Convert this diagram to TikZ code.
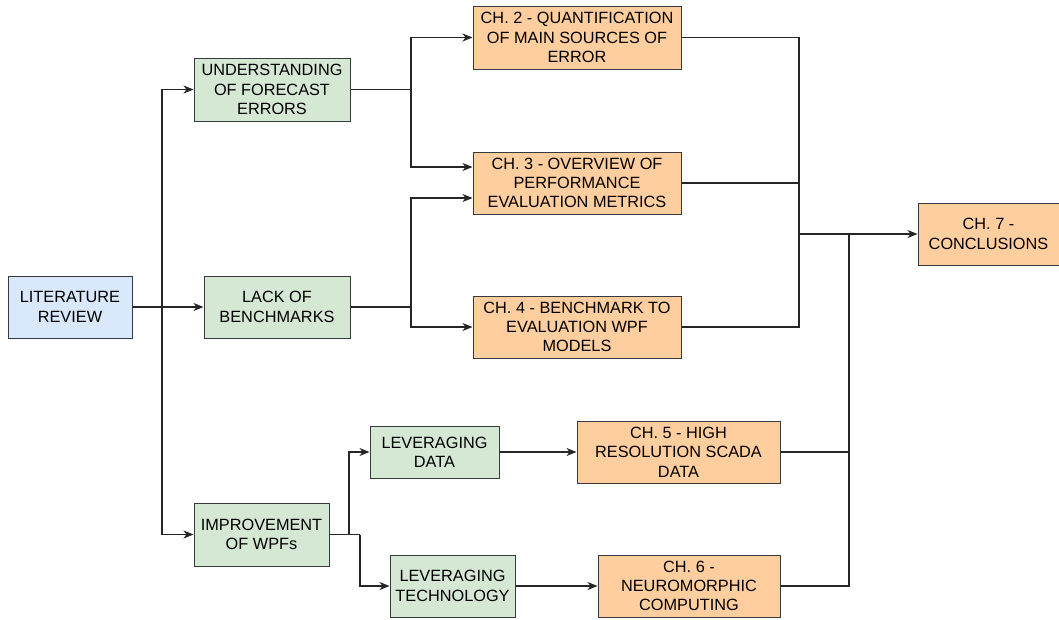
\documentclass[tikz,border=0pt]{standalone}
\usepackage{fontspec}
\setmainfont{Liberation Sans}
\usetikzlibrary{arrows.meta,calc}
\definecolor{litfill}{HTML}{DAE8FC}
\definecolor{topicfill}{HTML}{D5E8D4}
\definecolor{chapfill}{HTML}{FFCE9F}
\definecolor{edge}{HTML}{36393D}
\tikzset{
  box/.style={draw=edge, line width=1pt, align=center, inner sep=0pt,
    font=\fontsize{16.3}{19.3}\selectfont},
  lit/.style={box, fill=litfill},
  topic/.style={box, fill=topicfill},
  chap/.style={box, fill=chapfill},
  link/.style={draw=black!85, line width=1.1pt},
  arr/.style={link, -{Stealth[length=10pt,width=8pt,inset=3pt]}},
}
\begin{document}
\begin{tikzpicture}[x=1pt,y=-1pt]
\useasboundingbox (0,0) rectangle (1059,619);

% sources and topics
\node[lit, minimum width=124, minimum height=62] (lit) at (70,307) {LITERATURE\\REVIEW};
\node[topic, minimum width=156, minimum height=63] (und) at (272,89.5) {UNDERSTANDING\\OF FORECAST\\ERRORS};
\node[topic, minimum width=146, minimum height=62] (lack) at (277,307) {LACK OF\\BENCHMARKS};
\node[topic, minimum width=135, minimum height=63] (imp) at (261.5,534.5) {IMPROVEMENT\\OF WPFs};
\node[topic, minimum width=129, minimum height=52] (ldata) at (434.5,452) {LEVERAGING\\DATA};
\node[topic, minimum width=125, minimum height=62] (ltech) at (452.5,586) {LEVERAGING\\TECHNOLOGY};

% chapters
\node[chap, minimum width=208, minimum height=63] (ch2) at (577,37.5) {CH. 2 - QUANTIFICATION\\OF MAIN SOURCES OF\\ERROR};
\node[chap, minimum width=208, minimum height=62] (ch3) at (577,183) {CH. 3 - OVERVIEW OF\\PERFORMANCE\\EVALUATION METRICS};
\node[chap, minimum width=208, minimum height=62] (ch4) at (577,327) {CH. 4 - BENCHMARK TO\\EVALUATION WPF\\MODELS};
\node[chap, minimum width=203, minimum height=62] (ch5) at (678.5,452) {CH. 5 - HIGH\\RESOLUTION SCADA\\DATA};
\node[chap, minimum width=182, minimum height=62] (ch6) at (689,586) {CH. 6 -\\NEUROMORPHIC\\COMPUTING};
\node[chap, minimum width=141, minimum height=62] (ch7) at (988.5,234) {CH. 7 -\\CONCLUSIONS};

% junction points of the orthogonal connectors
\coordinate (jl) at (162,307);
\coordinate (ju) at (411,89.5);
\coordinate (jb) at (411,307);
\coordinate (ji1) at (349,534.5);
\coordinate (ji2) at (360,534.5);
\coordinate (jc) at (799,234);
\coordinate (jd) at (849,234);

% literature review fan-out
\draw[link] (lit.east) -- (jl);
\draw[arr] (jl) |- (und.west);
\draw[arr] (jl) -- (lack.west);
\draw[arr] (jl) |- (imp.west);

% understanding of forecast errors
\draw[link] (und.east) -- (ju);
\draw[arr] (ju) |- (ch2.west);
\draw[arr] (ju) |- ([yshift=16pt]ch3.west);

% lack of benchmarks
\draw[link] (lack.east) -- (jb);
\draw[arr] (jb) |- ([yshift=-15pt]ch3.west);
\draw[arr] (jb) |- (ch4.west);

% improvement of WPFs
\draw[link] (imp.east) -- (ji2);
\draw[arr] (ji1) |- (ldata.west);
\draw[arr] (ji2) |- (ltech.west);
\draw[arr] (ldata) -- (ch5);
\draw[arr] (ltech) -- (ch6);

% chapters merge into conclusions
\draw[link] (ch2.east) -| (jc);
\draw[link] (ch3.east) -| (jc);
\draw[link] (ch4.east) -| (jc);
\draw[link] (ch5.east) -| (jd);
\draw[link] (ch6.east) -| (jd);
\draw[arr] (jc) -- (ch7.west);
\end{tikzpicture}
\end{document}
